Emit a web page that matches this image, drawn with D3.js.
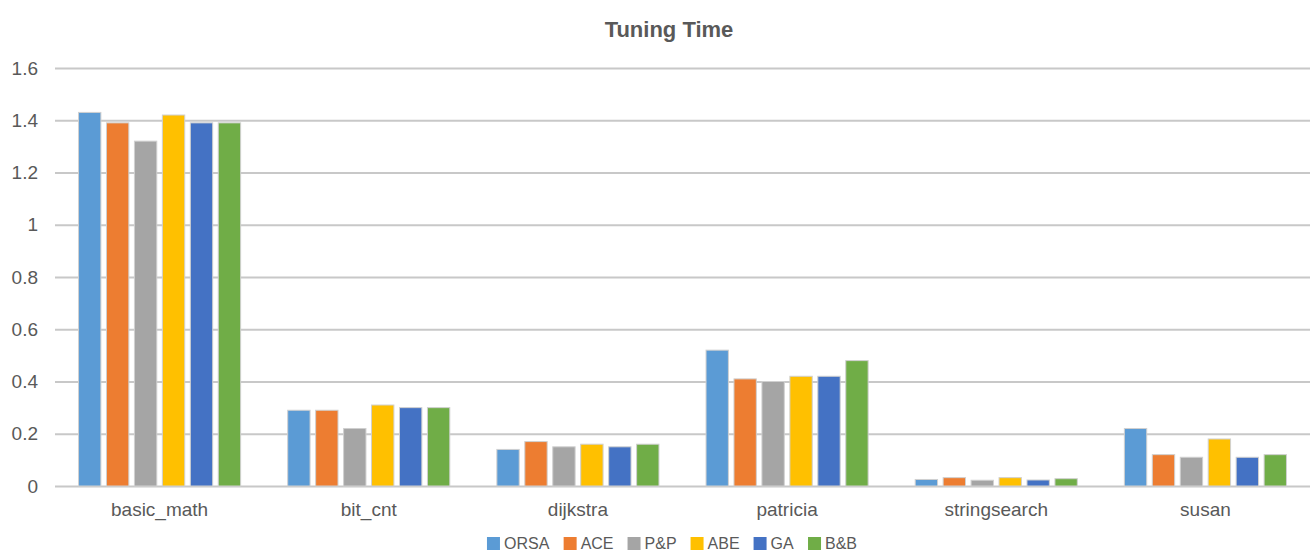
<!DOCTYPE html>
<html><head><meta charset="utf-8">
<script src="https://cdn.jsdelivr.net/npm/d3@7"></script>
<style>body{margin:0;background:#fff;}svg{display:block;font-family:"Liberation Sans",Arial,sans-serif;}</style>
</head><body>
<svg id="c" width="1310" height="551"></svg>
<script>
const categories = ["basic_math","bit_cnt","dijkstra","patricia","stringsearch","susan"];
const seriesNames = ["ORSA","ACE","P&P","ABE","GA","B&B"];
const seriesColors = ["#5b9bd5","#ed7d31","#a5a5a5","#ffc000","#4472c4","#70ad47"];
const ORSA = [1.43,0.29,0.14,0.52,0.025,0.22];
const ACE  = [1.39,0.29,0.17,0.41,0.032,0.12];
const PnP  = [1.32,0.22,0.15,0.40,0.022,0.11];
const ABE  = [1.42,0.31,0.16,0.42,0.032,0.18];
const GA   = [1.39,0.30,0.15,0.42,0.023,0.11];
const BnB  = [1.39,0.30,0.16,0.48,0.028,0.12];
const yTicks = [0,0.2,0.4,0.6,0.8,1,1.2,1.4,1.6];
const title = "Tuning Time";

const seriesValues = [ORSA,ACE,PnP,ABE,GA,BnB];
const svg = d3.select("#c");
const W = 1310, H = 551;
const m = {left:55, right:0, top:68, bottom:65};

const x = d3.scaleBand().domain(categories).range([m.left, W - m.right]).paddingInner(0).paddingOuter(0);
const y = d3.scaleLinear().domain([0,1.6]).range([H - m.bottom, m.top]);
const groupSpan = x.bandwidth() * 0.775;
const xs = d3.scaleBand().domain(seriesNames).range([0, groupSpan]).paddingInner(0.2).paddingOuter(0);
const offset = (x.bandwidth() - groupSpan) / 2;

// gridlines
const grid = d3.axisLeft(y).tickValues(yTicks).tickSize(-(W - m.left - m.right)).tickFormat("");
svg.append("g").attr("transform",`translate(${m.left},0)`).call(grid)
  .call(g=>g.select(".domain").remove())
  .call(g=>g.selectAll("line").attr("stroke","#c8c8c8").attr("stroke-width",2));

// y labels
const yAxis = d3.axisLeft(y).tickValues(yTicks).tickSize(0).tickPadding(17).tickFormat(d=>String(d));
svg.append("g").attr("transform",`translate(${m.left},0)`).call(yAxis)
  .call(g=>g.select(".domain").remove())
  .call(g=>g.selectAll("text").attr("fill","#595959").style("font-size","19px"));

// bars
const groups = svg.append("g").selectAll("g").data(categories).join("g")
  .attr("transform",d=>`translate(${x(d)+offset},0)`);
groups.selectAll("rect").data((c,i)=>seriesNames.map((s,j)=>({s,j,v:seriesValues[j][i]}))).join("rect")
  .attr("x",d=>xs(d.s)).attr("width",xs.bandwidth())
  .attr("y",d=>y(d.v)).attr("height",d=>y(0)-y(d.v))
  .attr("fill",d=>seriesColors[d.j]).attr("stroke","#d0d0d0").attr("stroke-width",1);

// x axis labels
const xAxis = d3.axisBottom(x).tickSize(0).tickPadding(17);
svg.append("g").attr("transform",`translate(0,${y(0)})`).call(xAxis)
  .call(g=>g.select(".domain").remove())
  .call(g=>g.selectAll("text").attr("fill","#595959").style("font-size","19px"));

// title
svg.append("text").attr("x",669).attr("y",37).attr("text-anchor","middle")
  .attr("fill","#595959").style("font-size","22px").style("font-weight","bold").text(title);

// legend
const leg = svg.append("g");
const items = leg.selectAll("g").data(seriesNames).join("g");
items.append("rect").attr("width",13).attr("height",13).attr("y",-12).attr("fill",(d,i)=>seriesColors[i]);
items.append("text").attr("x",17).attr("fill","#595959").style("font-size","16px").text(d=>d);
let cx = 0;
items.each(function(d){ const w = this.getBBox().width; d3.select(this).attr("transform",`translate(${cx},0)`); cx += w + 14; });
const totalW = cx - 14;
leg.attr("transform",`translate(${672 - totalW/2},${549})`);
</script>
</body></html>
